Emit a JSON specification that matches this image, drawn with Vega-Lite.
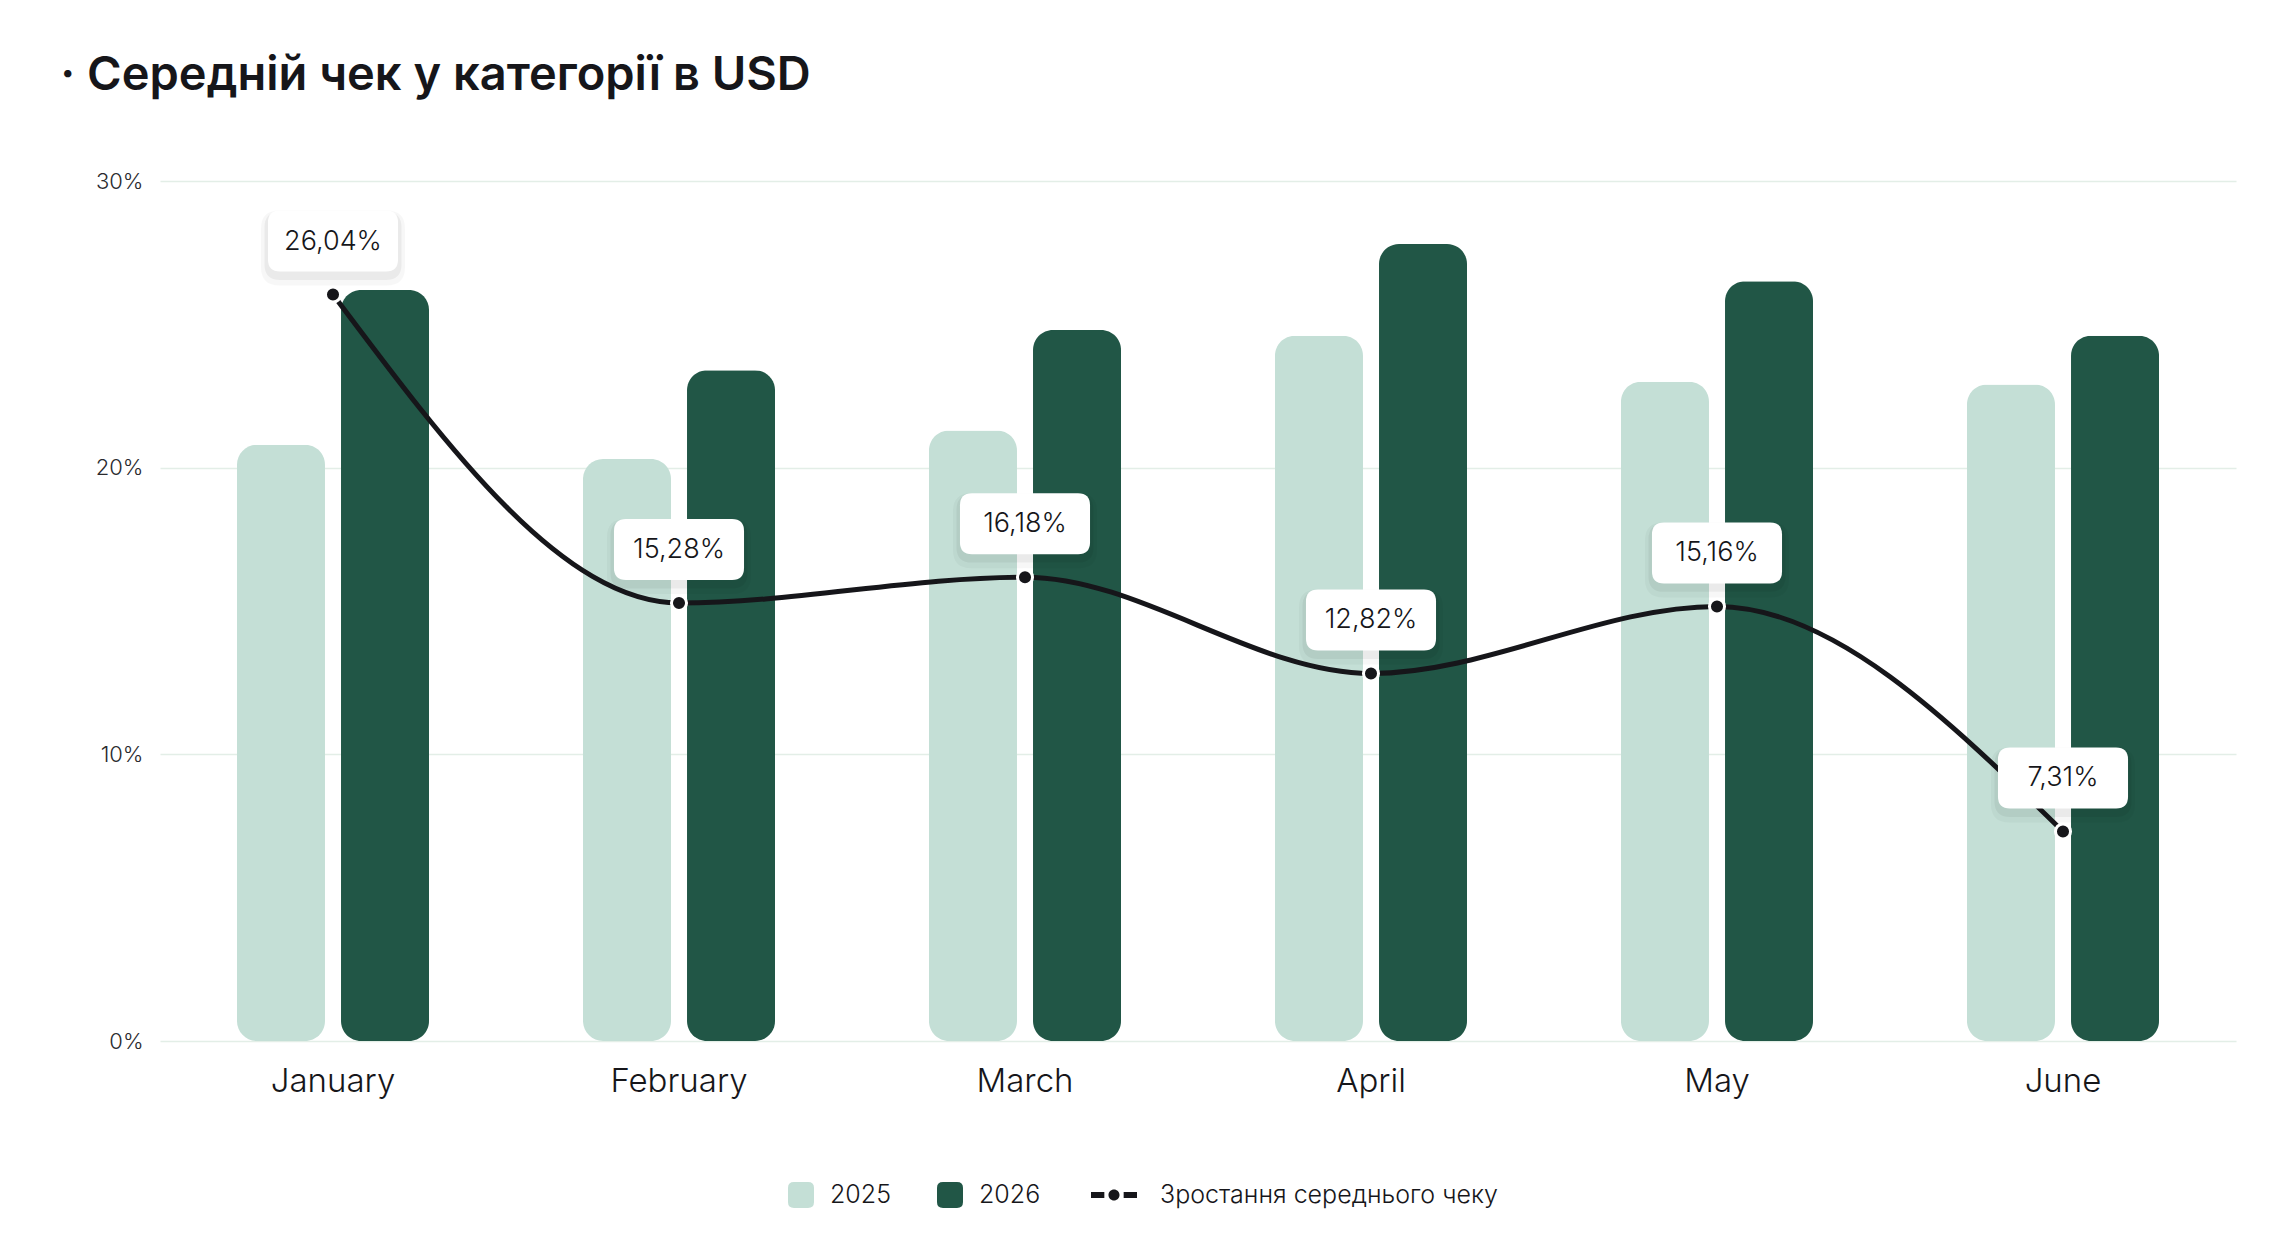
{
  "$schema": "https://vega.github.io/schema/vega-lite/v6.json",
  "width": 2076,
  "height": 860,
  "autosize": {"type": "none"},
  "padding": {"left": 160, "top": 181, "right": 60, "bottom": 205},
  "background": "white",
  "title": {
    "text": "·  Середній чек у категорії в USD",
    "anchor": "start",
    "dx": -35,
    "offset": 33,
    "baseline": "alphabetic",
    "fontSize": 47,
    "fontWeight": 600,
    "font": "Inter",
    "color": "#16161a"
  },
  "config": {
    "view": {"stroke": null},
    "font": "Inter"
  },
  "datasets": {
    "bars": [
      {"month": "January", "year": "2025", "value": 20.8},
      {"month": "January", "year": "2026", "value": 26.2},
      {"month": "February", "year": "2025", "value": 20.3},
      {"month": "February", "year": "2026", "value": 23.4},
      {"month": "March", "year": "2025", "value": 21.3},
      {"month": "March", "year": "2026", "value": 24.8},
      {"month": "April", "year": "2025", "value": 24.6},
      {"month": "April", "year": "2026", "value": 27.8},
      {"month": "May", "year": "2025", "value": 23.0},
      {"month": "May", "year": "2026", "value": 26.5},
      {"month": "June", "year": "2025", "value": 22.9},
      {"month": "June", "year": "2026", "value": 24.6}
    ],
    "growth": [
      {"month": "January", "growth": 26.04, "label": "26,04%"},
      {"month": "February", "growth": 15.28, "label": "15,28%"},
      {"month": "March", "growth": 16.18, "label": "16,18%"},
      {"month": "April", "growth": 12.82, "label": "12,82%"},
      {"month": "May", "growth": 15.16, "label": "15,16%"},
      {"month": "June", "growth": 7.31, "label": "7,31%"}
    ]
  },
  "layer": [
    {
      "data": {"name": "bars"},
      "mark": {"type": "bar", "cornerRadius": 20},
      "encoding": {
        "x": {
          "field": "month",
          "type": "nominal",
          "sort": ["January", "February", "March", "April", "May", "June"],
          "scale": {"paddingInner": 0, "paddingOuter": 0},
          "axis": {
            "title": null,
            "labelAngle": 0,
            "labelFontSize": 33,
            "labelFontWeight": 300,
            "labelColor": "#16161a",
            "labelPadding": 24,
            "domain": false,
            "ticks": false,
            "grid": false
          }
        },
        "xOffset": {
          "field": "year",
          "type": "nominal",
          "scale": {"paddingInner": 0.154, "paddingOuter": 0.74}
        },
        "y": {
          "field": "value",
          "type": "quantitative",
          "scale": {"domain": [0, 30], "nice": false},
          "axis": {
            "title": null,
            "values": [0, 10, 20, 30],
            "labelExpr": "datum.value + '%'",
            "labelFontSize": 22,
            "labelFontWeight": 300,
            "labelColor": "#2a2a2e",
            "labelPadding": 17,
            "domain": false,
            "ticks": false,
            "gridColor": "#e3eee7",
            "gridWidth": 1.5
          }
        },
        "color": {
          "field": "year",
          "type": "nominal",
          "scale": {
            "domain": ["2025", "2026"],
            "range": ["#c4dfd6", "#215646"]
          },
          "legend": {
            "orient": "none",
            "legendX": 628,
            "legendY": 1001,
            "direction": "horizontal",
            "title": null,
            "padding": 0,
            "symbolSize": 676,
            "symbolStrokeWidth": 0,
            "labelFontSize": 25,
            "labelFontWeight": 300,
            "labelColor": "#16161a",
            "labelOffset": 16,
            "columnPadding": 46,
            "encode": {
              "symbols": {
                "update": {
                  "shape": {"value": "M-1,-0.54Q-1,-1 -0.54,-1H0.54Q1,-1 1,-0.54V0.54Q1,1 0.54,1H-0.54Q-1,1 -1,0.54Z"},
                  "opacity": {"value": 1}
                }
              }
            }
          }
        }
      }
    },
    {
      "data": {"name": "growth"},
      "mark": {"type": "line", "interpolate": "monotone", "strokeWidth": 5},
      "encoding": {
        "x": {"field": "month", "type": "nominal", "sort": ["January", "February", "March", "April", "May", "June"]},
        "y": {"field": "growth", "type": "quantitative"},
        "stroke": {
          "datum": "Зростання середнього чеку",
          "scale": {"range": ["#16161a"]},
          "legend": {
            "orient": "none",
            "legendX": 931,
            "legendY": 991,
            "title": null,
            "padding": 0,
            "symbolSize": 2116,
            "labelFontSize": 25,
            "labelFontWeight": 300,
            "labelColor": "#16161a",
            "labelOffset": 23,
            "labelLimit": 800,
            "encode": {
              "symbols": {
                "update": {
                  "shape": {"value": "M-1,-0.13H-0.42V0.13H-1Z M0.42,-0.13H1V0.13H0.42Z M-0.24,0A0.24,0.24 0 1,0 0.24,0A0.24,0.24 0 1,0 -0.24,0Z"},
                  "fill": {"value": "#16161a"},
                  "stroke": {"value": "transparent"},
                  "strokeWidth": {"value": 0},
                  "opacity": {"value": 1}
                }
              }
            }
          }
        }
      }
    },
    {
      "data": {"name": "growth"},
      "mark": {
        "type": "point",
        "filled": true,
        "size": 19600,
        "fill": "#000000",
        "opacity": 0.03,
        "strokeWidth": 0,
        "shape": "M-0.769,-1.2H0.769Q1.029,-1.2 1.029,-0.94V-0.388Q1.029,-0.128 0.769,-0.128H-0.769Q-1.029,-0.128 -1.029,-0.388V-0.94Q-1.029,-1.2 -0.769,-1.2Z"
      },
      "encoding": {
        "x": {"field": "month", "type": "nominal", "sort": ["January", "February", "March", "April", "May", "June"]},
        "y": {"field": "growth", "type": "quantitative"}
      }
    },
    {
      "data": {"name": "growth"},
      "mark": {
        "type": "point",
        "filled": true,
        "size": 19600,
        "fill": "#000000",
        "opacity": 0.05,
        "strokeWidth": 0,
        "shape": "M-0.759,-1.18H0.759Q0.979,-1.18 0.979,-0.96V-0.428Q0.979,-0.208 0.759,-0.208H-0.759Q-0.979,-0.208 -0.979,-0.428V-0.96Q-0.979,-1.18 -0.759,-1.18Z"
      },
      "encoding": {
        "x": {"field": "month", "type": "nominal", "sort": ["January", "February", "March", "April", "May", "June"]},
        "y": {"field": "growth", "type": "quantitative"}
      }
    },
    {
      "data": {"name": "growth"},
      "mark": {
        "type": "point",
        "filled": true,
        "size": 19600,
        "fill": "#ffffff",
        "opacity": 1,
        "strokeWidth": 0,
        "shape": "M-0.758,-1.2H0.758Q0.929,-1.2 0.929,-1.029V-0.499Q0.929,-0.328 0.758,-0.328H-0.758Q-0.929,-0.328 -0.929,-0.499V-1.029Q-0.929,-1.2 -0.758,-1.2Z"
      },
      "encoding": {
        "x": {"field": "month", "type": "nominal", "sort": ["January", "February", "March", "April", "May", "June"]},
        "y": {"field": "growth", "type": "quantitative"}
      }
    },
    {
      "data": {"name": "growth"},
      "mark": {
        "type": "point",
        "filled": true,
        "shape": "circle",
        "size": 227,
        "fill": "#16161a",
        "stroke": "#ffffff",
        "strokeWidth": 3,
        "opacity": 1
      },
      "encoding": {
        "x": {"field": "month", "type": "nominal", "sort": ["January", "February", "March", "April", "May", "June"]},
        "y": {"field": "growth", "type": "quantitative"}
      }
    },
    {
      "data": {"name": "growth"},
      "mark": {
        "type": "text",
        "dy": -53,
        "baseline": "middle",
        "align": "center",
        "fontSize": 27,
        "fontWeight": 300,
        "color": "#16161a"
      },
      "encoding": {
        "x": {"field": "month", "type": "nominal", "sort": ["January", "February", "March", "April", "May", "June"]},
        "y": {"field": "growth", "type": "quantitative"},
        "text": {"field": "label"}
      }
    }
  ]
}
